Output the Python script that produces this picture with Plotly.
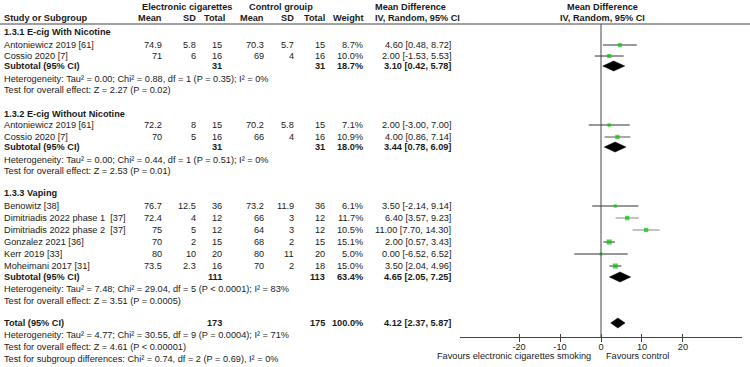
import plotly.graph_objects as go

W, H = 750, 367

# ---------------- data ----------------
studies = ["Antoniewicz 2019 [61]", "Cossio 2020 [7]",
           "Antoniewicz 2019 [61]", "Cossio 2020 [7]",
           "Benowitz [38]", "Dimitriadis 2022 phase 1  [37]", "Dimitriadis 2022 phase 2  [37]",
           "Gonzalez 2021 [36]", "Kerr 2019 [33]", "Moheimani 2017 [31]"]
study_group = [0, 0, 1, 1, 2, 2, 2, 2, 2, 2]
ec_mean = [74.9, 71, 72.2, 70, 76.7, 72.4, 75, 70, 80, 73.5]
ec_sd = [5.8, 6, 8, 5, 12.5, 4, 5, 2, 10, 2.3]
ec_n = [15, 16, 15, 16, 36, 12, 12, 15, 20, 16]
ct_mean = [70.3, 69, 70.2, 66, 73.2, 66, 64, 68, 80, 70]
ct_sd = [5.7, 4, 5.8, 4, 11.9, 3, 3, 2, 11, 2]
ct_n = [15, 16, 15, 16, 36, 12, 12, 15, 20, 18]
weight = [8.7, 10.0, 7.1, 10.9, 6.1, 11.7, 10.5, 15.1, 5.0, 15.0]
md = [4.60, 2.00, 2.00, 4.00, 3.50, 6.40, 11.00, 2.00, 0.00, 3.50]
ci_lo = [0.48, -1.53, -3.00, 0.86, -2.14, 3.57, 7.70, 0.57, -6.52, 2.04]
ci_hi = [8.72, 5.53, 7.00, 7.14, 9.14, 9.23, 14.30, 3.43, 6.52, 4.96]

group_titles = ["1.3.1 E-cig With Nicotine", "1.3.2 E-cig Without Nicotine", "1.3.3 Vaping"]
sub_ec_n = [31, 31, 111]
sub_ct_n = [31, 31, 113]
sub_weight = [18.7, 18.0, 63.4]
sub_md = [3.10, 3.44, 4.65]
sub_lo = [0.42, 0.78, 2.05]
sub_hi = [5.78, 6.09, 7.25]
group_het = ["Heterogeneity: Tau² = 0.00; Chi² = 0.88, df = 1 (P = 0.35); I² = 0%",
             "Heterogeneity: Tau² = 0.00; Chi² = 0.44, df = 1 (P = 0.51); I² = 0%",
             "Heterogeneity: Tau² = 7.48; Chi² = 29.04, df = 5 (P < 0.0001); I² = 83%"]
group_test = ["Test for overall effect: Z = 2.27 (P = 0.02)",
              "Test for overall effect: Z = 2.53 (P = 0.01)",
              "Test for overall effect: Z = 3.51 (P = 0.0005)"]

total_ec_n, total_ct_n, total_weight = 173, 175, 100.0
total_md, total_lo, total_hi = 4.12, 2.37, 5.87
total_het = "Heterogeneity: Tau² = 4.77; Chi² = 30.55, df = 9 (P = 0.0004); I² = 71%"
total_test = "Test for overall effect: Z = 4.61 (P < 0.00001)"
subgroup_test = "Test for subgroup differences: Chi² = 0.74, df = 2 (P = 0.69), I² = 0%"

x_ticks = [-20, -10, 0, 10, 20]
favours_left = "Favours electronic cigarettes smoking"
favours_right = "Favours control"

# ---------------- layout (pixel positions) ----------------
FONT = "Liberation Sans, Arial, sans-serif"
FS = 9.2
TXT = "#1a1a1a"
group_title_y = [32, 114, 193]
study_y = [45, 56, 125, 137, 206, 218, 230, 242, 254, 266]
sub_y = [66, 147, 277]
het_y = [79, 160, 289]
test_y = [90, 171, 301]
total_y, total_het_y, total_test_y, subgroup_y = 323, 335, 347, 359
axis_y = 337
line_y = 24

col = dict(name=3, ec_mean=163, ec_sd=197, ec_n=223, ct_mean=265, ct_sd=295,
           ct_n=326, weight=364, ci=452)
plot_left, plot_right, xr = 460, 742, 34.4

fig = go.Figure()
ann = []


def txt(x, y, s, anchor="right", bold=False, color=TXT):
    ann.append(dict(x=x / W, y=y, xref="paper", yref="y", text=f"<b>{s}</b>" if bold else s,
                    showarrow=False, xanchor=anchor, yanchor="middle",
                    font=dict(family=FONT, size=FS, color=color), borderpad=0))


def fmt_ci(m, lo, hi):
    return f"{m:.2f} [{lo:.2f}, {hi:.2f}]"


# headers
txt(187, 7, "Electronic cigarettes", "center", True)
txt(281, 7, "Control grouip", "center", True)
txt(374, 7, "Mean Difference", "left", True)
txt(602, 7, "Mean Difference", "center", True)
txt(col["name"], 18, "Study or Subgroup", "left", True)
for k, s in [("ec_mean", "Mean"), ("ec_sd", "SD"), ("ec_n", "Total"), ("ct_mean", "Mean"),
             ("ct_sd", "SD"), ("ct_n", "Total"), ("weight", "Weight")]:
    txt(col[k] + (3 if k == "ec_n" else 0), 18, s, "right", True)
txt(374, 18, "IV, Random, 95% CI", "left", True)
txt(602, 18, "IV, Random, 95% CI", "center", True)

# studies
for i, s in enumerate(studies):
    y = study_y[i]
    txt(col["name"], y, s, "left")
    txt(col["ec_mean"], y, f"{ec_mean[i]:g}")
    txt(col["ec_sd"], y, f"{ec_sd[i]:g}")
    txt(col["ec_n"], y, f"{ec_n[i]}")
    txt(col["ct_mean"], y, f"{ct_mean[i]:g}")
    txt(col["ct_sd"], y, f"{ct_sd[i]:g}")
    txt(col["ct_n"], y, f"{ct_n[i]}")
    txt(col["weight"], y, f"{weight[i]:.1f}%")
    txt(col["ci"], y, fmt_ci(md[i], ci_lo[i], ci_hi[i]))

# groups
for g in range(3):
    txt(col["name"], group_title_y[g], group_titles[g], "left", True)
    txt(col["name"], sub_y[g], "Subtotal (95% CI)", "left", True)
    txt(col["ec_n"], sub_y[g], f"{sub_ec_n[g]}", "right", True)
    txt(col["ct_n"], sub_y[g], f"{sub_ct_n[g]}", "right", True)
    txt(col["weight"], sub_y[g], f"{sub_weight[g]:.1f}%", "right", True)
    txt(col["ci"], sub_y[g], fmt_ci(sub_md[g], sub_lo[g], sub_hi[g]), "right", True)
    txt(col["name"], het_y[g], group_het[g], "left")
    txt(col["name"], test_y[g], group_test[g], "left")

txt(col["name"], total_y, "Total (95% CI)", "left", True)
txt(col["ec_n"], total_y, f"{total_ec_n}", "right", True)
txt(col["ct_n"], total_y, f"{total_ct_n}", "right", True)
txt(col["weight"], total_y, f"{total_weight:.1f}%", "right", True)
txt(col["ci"], total_y, fmt_ci(total_md, total_lo, total_hi), "right", True)
txt(col["name"], total_het_y, total_het, "left")
txt(col["name"], total_test_y, total_test, "left")
txt(col["name"], subgroup_y, subgroup_test, "left")

# favours labels
px0 = plot_left + (0 + xr) / (2 * xr) * (plot_right - plot_left)
txt(px0 - 9, 356, favours_left, "right")
txt(px0 + 4, 356, favours_right, "left")

# CI lines
line_col = ["#333333", "#333333", "#333333", "#555555", "#333333", "#888888", "#888888",
            "#333333", "#333333", "#333333"]
for i in range(len(studies)):
    fig.add_trace(go.Scatter(x=[ci_lo[i], ci_hi[i]], y=[study_y[i], study_y[i]], mode="lines",
                             line=dict(color=line_col[i], width=1), hoverinfo="skip",
                             showlegend=False))
# squares
fig.add_trace(go.Scatter(x=md, y=study_y, mode="markers",
                         marker=dict(symbol="square", color="#00c400",
                                     size=[1.3 * w ** 0.5 for w in weight], line=dict(width=0)),
                         showlegend=False, hoverinfo="skip"))

# diamonds
dh = 5
for m, lo, hi, y in list(zip(sub_md, sub_lo, sub_hi, sub_y)) + [(total_md, total_lo, total_hi, total_y)]:
    fig.add_trace(go.Scatter(x=[lo, m, hi, m, lo], y=[y, y - dh, y, y + dh, y], mode="lines",
                             fill="toself", fillcolor="#000000", line=dict(color="#000000", width=0.5),
                             showlegend=False, hoverinfo="skip"))

# shapes: header rule and zero line
shapes = [dict(type="line", xref="paper", yref="y", x0=0, x1=1, y0=line_y, y1=line_y,
               line=dict(color="#444444", width=1)),
          dict(type="line", xref="x", yref="y", x0=0, x1=0, y0=line_y, y1=axis_y,
               line=dict(color="#444444", width=1))]

axis_common = dict(domain=[plot_left / W, plot_right / W], range=[-xr, xr], anchor="free",
                   position=1 - axis_y / H, showgrid=False, zeroline=False,
                   tickcolor="#444444", tickvals=x_ticks)
fig.update_layout(
    width=W, height=H, margin=dict(l=0, r=0, t=0, b=0, autoexpand=False),
    paper_bgcolor="white", plot_bgcolor="rgba(0,0,0,0)",
    annotations=ann, shapes=shapes, showlegend=False,
    xaxis=dict(**axis_common, showline=True, linecolor="#444444", linewidth=1,
               ticks="outside", ticklen=4, ticklabelstandoff=-3,
               ticktext=[str(v) for v in x_ticks],
               tickfont=dict(family=FONT, size=FS, color=TXT)),
    xaxis2=dict(**axis_common, overlaying="x", ticks="inside", ticklen=3,
                showticklabels=False, showline=False),
    yaxis=dict(domain=[0, 1], range=[H, 0], visible=False, showgrid=False, zeroline=False),
)
# invisible trace to activate the secondary tick axis
fig.add_trace(go.Scatter(x=[0], y=[axis_y], xaxis="x2", mode="markers",
                         marker=dict(size=0.1, opacity=0), hoverinfo="skip", showlegend=False))

fig.write_html("out.html", config={"displayModeBar": False},
               post_script="document.body.style.margin='0';document.body.style.overflow='hidden';")
